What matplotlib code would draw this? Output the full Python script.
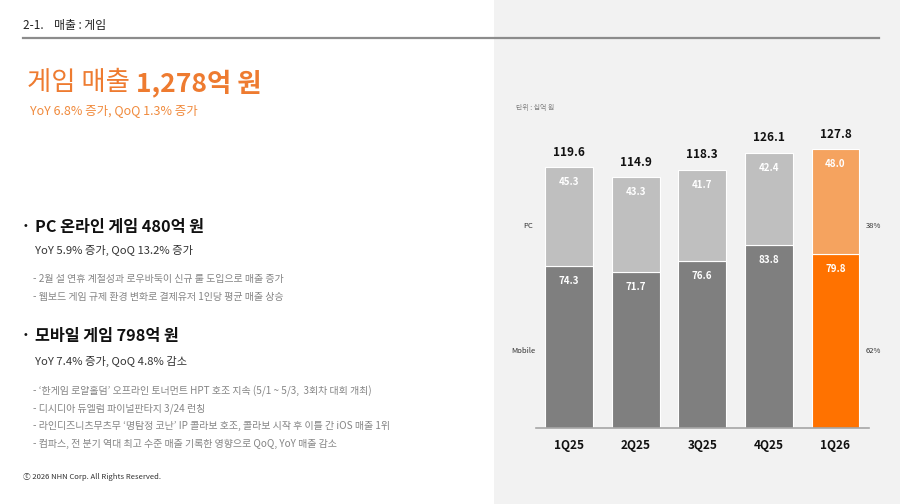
import matplotlib.pyplot as plt
import numpy as np
from matplotlib.patches import Rectangle
from matplotlib.lines import Line2D

plt.rcParams["font.family"] = ["Noto Sans CJK KR", "DejaVu Sans"]

W, H = 900, 504

# data (unit: 십억 원)
quarters = ["1Q25", "2Q25", "3Q25", "4Q25", "1Q26"]
mobile = [74.3, 71.7, 76.6, 83.8, 79.8]
pc = [45.3, 43.3, 41.7, 42.4, 48.0]
totals = [119.6, 114.9, 118.3, 126.1, 127.8]

pc_bullets = [
    "- 2월 설 연휴 계절성과 로우바둑이 신규 룰 도입으로 매출 증가",
    "- 웹보드 게임 규제 환경 변화로 결제유저 1인당 평균 매출 상승",
]
mobile_bullets = [
    "- ‘한게임 로얄홀덤’ 오프라인 토너먼트 HPT 호조 지속 (5/1 ~ 5/3,  3회차 대회 개최)",
    "- 디시디아 듀엘럼 파이널판타지 3/24 런칭",
    "- 라인디즈니츠무츠무 ‘명탐정 코난’ IP 콜라보 호조, 콜라보 시작 후 이틀 간 iOS 매출 1위",
    "- 컴파스, 전 분기 역대 최고 수준 매출 기록한 영향으로 QoQ, YoY 매출 감소",
]

ORANGE = "#ee7b30"
MOB_GRAY = "#7f7f7f"
PC_GRAY = "#bfbfbf"
MOB_HI = "#ff7200"
PC_HI = "#f5a35f"


def fx(px):
    return px / W


def fy(py):
    return 1 - py / H


fig = plt.figure(figsize=(W / 100, H / 100), dpi=100)
fig.patch.set_facecolor("white")

# right grey panel
fig.patches.append(
    Rectangle((fx(494), 0), 1 - fx(494), 1, transform=fig.transFigure,
              facecolor="#f2f2f2", edgecolor="none", zorder=-5)
)
# header rule
fig.lines.append(
    Line2D([fx(23), fx(879)], [fy(38), fy(38)], transform=fig.transFigure,
           color="#8c8c8c", lw=1.6, zorder=1)
)

fig.text(fx(23), fy(25), "2-1.    매출 : 게임", fontsize=8.5, color="#222222", va="center")

# headline
t1 = fig.text(fx(27), fy(83), "게임 매출 ", fontsize=19, color=ORANGE, va="center")
fig.canvas.draw()
bb = t1.get_window_extent()
fig.text(bb.x1 / W, fy(83), "1,278억 원", fontsize=19, color=ORANGE,
         fontweight="bold", va="center")
fig.text(fx(30), fy(111), "YoY 6.8% 증가, QoQ 1.3% 증가", fontsize=9,
         color="#f08a3c", va="center")

# PC section
fig.text(fx(21), fy(227), "·", fontsize=12, fontweight="bold", color="#111111", va="center")
fig.text(fx(35), fy(227), "PC 온라인 게임 480억 원", fontsize=11.7, fontweight="bold",
         color="#111111", va="center")
fig.text(fx(35), fy(250), "YoY 5.9% 증가, QoQ 13.2% 증가", fontsize=8.1,
         color="#333333", va="center")
for i, line in enumerate(pc_bullets):
    fig.text(fx(33), fy(279 + i * 18), line, fontsize=7.2, color="#858585", va="center")

# Mobile section
fig.text(fx(21), fy(336), "·", fontsize=12, fontweight="bold", color="#111111", va="center")
fig.text(fx(35), fy(336), "모바일 게임 798억 원", fontsize=11.7, fontweight="bold",
         color="#111111", va="center")
fig.text(fx(35), fy(361), "YoY 7.4% 증가, QoQ 4.8% 감소", fontsize=8.1,
         color="#333333", va="center")
for i, line in enumerate(mobile_bullets):
    fig.text(fx(33), fy(391 + i * 17.7), line, fontsize=7.2, color="#858585", va="center")

fig.text(fx(23), fy(477), "ⓒ 2026 NHN Corp. All Rights Reserved.", fontsize=5.5,
         color="#333333", va="center")

# chart
scale = 2.18  # px per unit
ax_left, ax_right = 535.7, 868.8
ax_bottom_px = 428
ymax = 140
ax = fig.add_axes([fx(ax_left), fy(ax_bottom_px), fx(ax_right - ax_left),
                   ymax * scale / H])
ax.set_facecolor("none")
x = np.arange(len(quarters))
mob_colors = [MOB_GRAY] * (len(quarters) - 1) + [MOB_HI]
pc_colors = [PC_GRAY] * (len(quarters) - 1) + [PC_HI]
ax.bar(x, mobile, width=0.72, color=mob_colors, edgecolor="white", linewidth=0.8)
ax.bar(x, pc, bottom=mobile, width=0.72, color=pc_colors, edgecolor="white", linewidth=0.8)

for i in x:
    ax.text(i, mobile[i] - 6.8, f"{mobile[i]:.1f}", ha="center", va="center",
            color="white", fontsize=7, fontweight="bold")
    ax.text(i, mobile[i] + pc[i] - 6.8, f"{pc[i]:.1f}", ha="center", va="center",
            color="white", fontsize=7, fontweight="bold")
    ax.text(i, totals[i] + 7, f"{totals[i]:.1f}", ha="center", va="center",
            color="#111111", fontsize=8.5, fontweight="bold")

ax.set_xlim(-0.5, len(quarters) - 0.5)
ax.set_ylim(0, ymax)
for s in ["top", "left", "right"]:
    ax.spines[s].set_visible(False)
ax.spines["bottom"].set_color("#a6a6a6")
ax.spines["bottom"].set_linewidth(1.2)
ax.set_yticks([])
ax.set_xticks(x)
ax.set_xticklabels(quarters, fontsize=8.5, fontweight="bold", color="#111111")
ax.tick_params(axis="x", length=0, pad=8)

fig.text(fx(516), fy(108), "단위 : 십억 원", fontsize=5, color="#7f7f7f", va="center")
fig.text(fx(533), fy(226), "PC", fontsize=5.5, color="#333333", va="center", ha="right")
fig.text(fx(536), fy(351), "Mobile", fontsize=5.5, color="#333333", va="center", ha="right")
pc_share = round(pc[-1] / totals[-1] * 100)
fig.text(fx(866), fy(226), f"{pc_share}%", fontsize=5.5, color="#333333", va="center")
fig.text(fx(866), fy(351), f"{100 - pc_share}%", fontsize=5.5, color="#333333", va="center")

fig.savefig("out.png", dpi=100)
